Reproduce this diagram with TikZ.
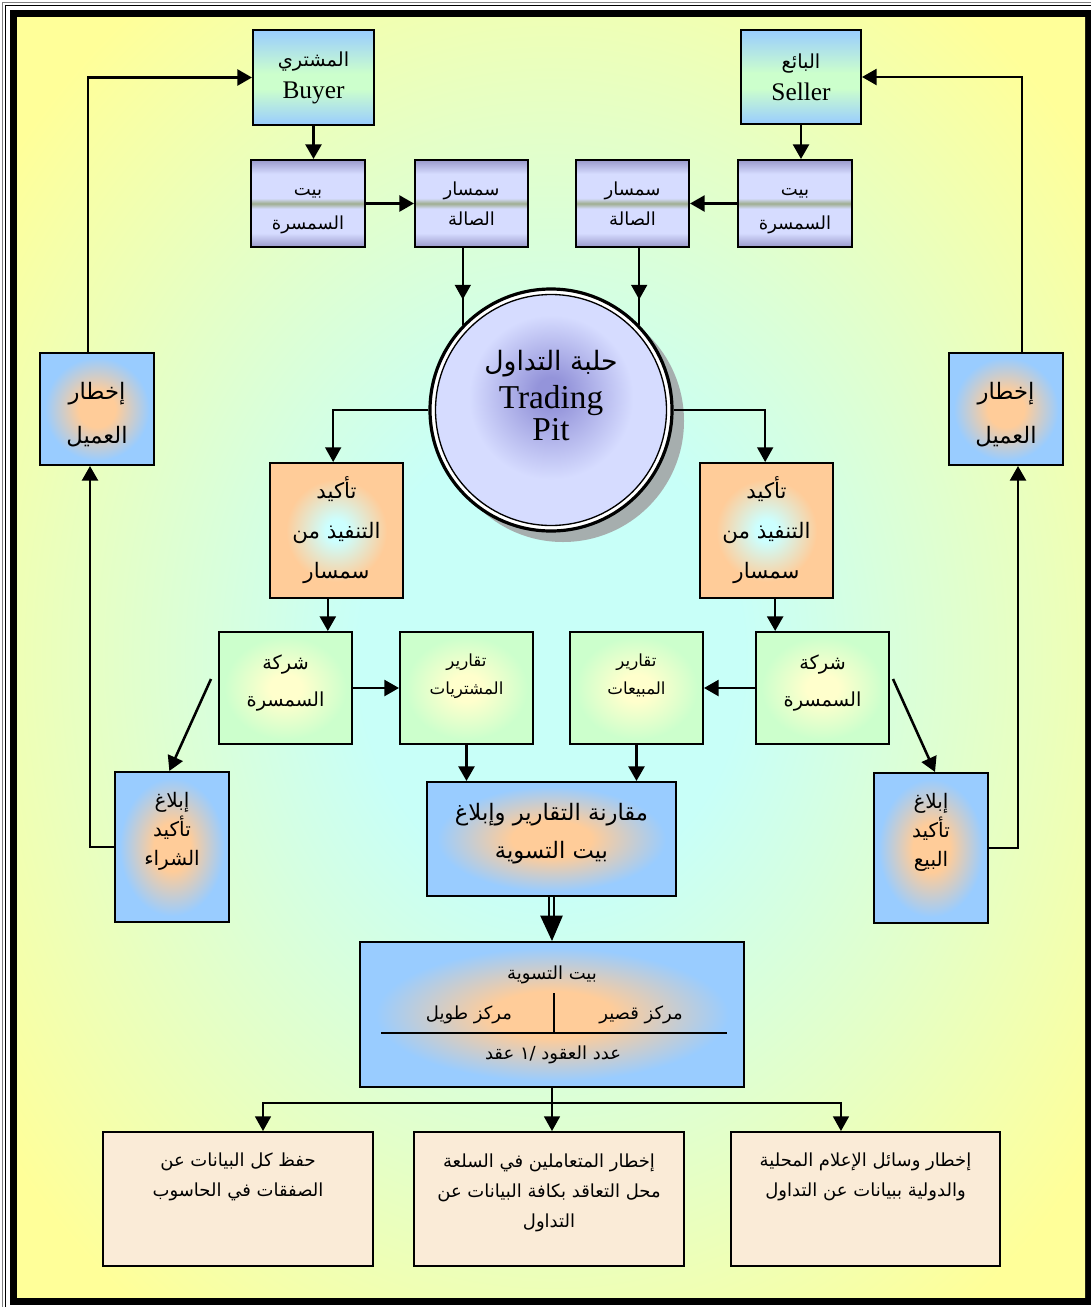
\documentclass[tikz,border=0pt]{standalone}
\usepackage{fontspec}
\setmainfont{Liberation Serif}
\newfontfamily\arabicfont[Script=Arabic]{DejaVu Sans}
\TeXXeTstate=1
\usetikzlibrary{arrows.meta,calc}
\newcommand\artx[1]{\beginR#1\endR}
\definecolor{bgy}{HTML}{FFFF99}
\definecolor{bgc}{HTML}{C8FFF8}
\definecolor{bl}{HTML}{99CCFF}
\definecolor{gr}{HTML}{CCFFCC}
\definecolor{lavd}{HTML}{9A9ACC}
\definecolor{lavl}{HTML}{D6DCFF}
\definecolor{band}{HTML}{9FAE90}
\definecolor{ora}{HTML}{FFCC99}
\definecolor{cyn}{HTML}{CCFFFF}
\definecolor{ylw}{HTML}{FFFFCC}
\definecolor{pitc}{HTML}{9494DA}
\definecolor{pito}{HTML}{D6DCFF}
\definecolor{shad}{HTML}{A6AEAE}
\definecolor{linen}{HTML}{FAEBD7}
\pgfdeclareradialshading{bgsh}{\pgfpoint{0bp}{0bp}}{color(0bp)=(bgc); color(9bp)=(bgc); color(32bp)=(bgy); color(50bp)=(bgy)}
\pgfdeclareradialshading{obl}{\pgfpoint{0bp}{0bp}}{color(0bp)=(ora); color(8bp)=(ora); color(23bp)=(bl); color(50bp)=(bl)}
\pgfdeclareradialshading{cor}{\pgfpoint{0bp}{0bp}}{color(0bp)=(cyn); color(4bp)=(cyn); color(19bp)=(ora); color(50bp)=(ora)}
\pgfdeclareradialshading{ygr}{\pgfpoint{0bp}{0bp}}{color(0bp)=(ylw); color(6bp)=(ylw); color(23bp)=(gr); color(50bp)=(gr)}
\pgfdeclareradialshading{pitsh}{\pgfpoint{0bp}{4bp}}{color(0bp)=(pitc); color(3bp)=(pitc); color(17bp)=(pito); color(50bp)=(pito)}
\pgfdeclareverticalshading{bygr}{100bp}{color(0bp)=(bl); color(25bp)=(bl); color(44bp)=(gr); color(52bp)=(gr); color(75bp)=(bl); color(100bp)=(bl)}
\pgfdeclareverticalshading{lav}{100bp}{color(0bp)=(lavd); color(25bp)=(lavd); color(33bp)=(lavl); color(47bp)=(lavl); color(50bp)=(band); color(53bp)=(lavl); color(67bp)=(lavl); color(75bp)=(lavd); color(100bp)=(lavd)}
\begin{document}
\begin{tikzpicture}[x=0.75pt,y=-0.75pt,
  box/.style={draw=black,line width=1.5pt,inner sep=0pt,align=center},
  sz/.style 2 args={minimum width=#1*0.75pt,minimum height=#2*0.75pt},
  arr/.style={line width=1.9pt,-{Triangle[width=12pt,length=11pt]}},
  arrt/.style={line width=1.2pt,-{Triangle[width=12pt,length=11pt]}},
  ln/.style={line width=1.2pt}]
\useasboundingbox (0,0) rectangle (1091,1307);
% frame
\fill[white] (0,0) rectangle (1091,1307);
\draw[line width=0.8pt,gray] (2.5,1307) -- (2.5,2.5) -- (1091,2.5);
\draw[line width=0.8pt] (5.5,1307) -- (5.5,5.5) -- (1091,5.5);
\fill[black] (10,10) rectangle (1091,1305);
\shade[shading=bgsh] (17,17) rectangle (1085,1297);
% top boxes
\node[box,shading=bygr,sz={121}{95},font=\fontsize{19}{23}\selectfont] (buyer) at (313.5,77.5)
  {{\arabicfont\fontsize{14.5}{23}\selectfont\artx{المشتري}}\\[1pt]Buyer};
\node[box,shading=bygr,sz={120}{94},font=\fontsize{19}{23}\selectfont] (seller) at (801,77)
  {{\arabicfont\fontsize{14.5}{23}\selectfont\artx{البائع}}\\[1pt]Seller};
\node[box,shading=lav,sz={114}{87},font=\arabicfont\fontsize{13.5}{26}\selectfont] (bsL) at (308,203.5) {\mbox{}\\[-9pt]\artx{بيت}\\\artx{السمسرة}};
\node[box,shading=lav,sz={113}{87},font=\arabicfont\fontsize{13.5}{23}\selectfont] (ssL) at (471.5,203.5) {\artx{سمسار}\\\artx{الصالة}};
\node[box,shading=lav,sz={113}{87},font=\arabicfont\fontsize{13.5}{23}\selectfont] (ssR) at (632.5,203.5) {\artx{سمسار}\\\artx{الصالة}};
\node[box,shading=lav,sz={114}{87},font=\arabicfont\fontsize{13.5}{26}\selectfont] (bsR) at (795,203.5) {\mbox{}\\[-9pt]\artx{بيت}\\\artx{السمسرة}};
% trading pit
\fill[shad] (563,421) circle[radius=121];
\node[circle,draw=black,line width=2.4pt,fill=white,minimum size=242*0.75pt,inner sep=0pt,align=center,
  font=\fontsize{25}{24}\selectfont,
  path picture={\shade[shading=pitsh] (path picture bounding box.center) circle[radius=115];
                \draw[line width=1pt] (path picture bounding box.center) circle[radius=115.5];}]
  (pit) at (551,410) {{\arabicfont\fontsize{20}{24}\selectfont\artx{حلبة التداول}}\\[5pt]Trading\\Pit\\[-2pt]\mbox{}};
% side boxes
\node[box,shading=obl,sz={114}{112},font=\arabicfont\fontsize{17}{33}\selectfont] (akL) at (97,409) {\mbox{}\\[-12pt]\artx{إخطار}\\\artx{العميل}};
\node[box,shading=obl,sz={114}{112},font=\arabicfont\fontsize{17}{33}\selectfont] (akR) at (1006,409) {\mbox{}\\[-12pt]\artx{إخطار}\\\artx{العميل}};
% execution confirmation
\node[box,shading=cor,sz={133}{135},font=\arabicfont\fontsize{16}{30}\selectfont] (tkL) at (336.5,530.5) {\artx{تأكيد}\\\artx{التنفيذ من}\\\artx{سمسار}};
\node[box,shading=cor,sz={133}{135},font=\arabicfont\fontsize{16}{30}\selectfont] (tkR) at (766.5,530.5) {\artx{تأكيد}\\\artx{التنفيذ من}\\\artx{سمسار}};
% brokerage / reports
\node[box,shading=ygr,sz={133}{112},font=\arabicfont\fontsize{14.5}{28}\selectfont] (shL) at (285.5,688) {\artx{شركة}\\\artx{السمسرة}\\[-17pt]\mbox{}};
\node[box,shading=ygr,sz={133}{112},font=\arabicfont\fontsize{12.5}{21}\selectfont] (tqM) at (466.5,688) {\artx{تقارير}\\\artx{المشتريات}\\\mbox{}};
\node[box,shading=ygr,sz={133}{112},font=\arabicfont\fontsize{12.5}{21}\selectfont] (tqS) at (636.5,688) {\artx{تقارير}\\\artx{المبيعات}\\\mbox{}};
\node[box,shading=ygr,sz={133}{112},font=\arabicfont\fontsize{14.5}{28}\selectfont] (shR) at (822.5,688) {\artx{شركة}\\\artx{السمسرة}\\[-17pt]\mbox{}};
% notification boxes
\node[box,shading=obl,sz={114}{150},font=\arabicfont\fontsize{15}{22}\selectfont] (ibL) at (172,847) {\artx{إبلاغ}\\\artx{تأكيد}\\\artx{الشراء}\\[5pt]\mbox{}};
\node[box,shading=obl,sz={114}{150},font=\arabicfont\fontsize{15}{22}\selectfont] (ibR) at (931,848) {\artx{إبلاغ}\\\artx{تأكيد}\\\artx{البيع}\\[5pt]\mbox{}};
% comparison
\node[box,shading=obl,sz={249}{114},font=\arabicfont\fontsize{17}{28}\selectfont] (muq) at (551.5,839) {\artx{مقارنة التقارير وإبلاغ}\\\artx{بيت التسوية}\\[-16pt]\mbox{}};
% settlement house
\node[box,shading=obl,sz={384}{145}] (tas) at (552,1014.5) {};
\node[font=\arabicfont\fontsize{13.5}{20}\selectfont] (tasT) at (552,975) {\artx{بيت التسوية}};
\node[font=\arabicfont\fontsize{13.5}{20}\selectfont] (tasS) at (641,1015) {\artx{مركز قصير}};
\node[font=\arabicfont\fontsize{13.5}{20}\selectfont] (tasL) at (469,1015) {\artx{مركز طويل}};
\node[font=\arabicfont\fontsize{13.5}{20}\selectfont] (tasN) at (553,1055) {\artx{عدد العقود /١ عقد}};
\draw[ln] (554,993) -- (554,1033);
\draw[ln] (381,1033) -- (727,1033);
% bottom boxes
\node[box,fill=linen,sz={270}{134},font=\arabicfont\fontsize{13.5}{22.5}\selectfont] (b1) at (238,1199) {\artx{حفظ كل البيانات عن}\\\artx{الصفقات في الحاسوب}\\[13.5pt]\mbox{}};
\node[box,fill=linen,sz={270}{134},font=\arabicfont\fontsize{13.5}{22.5}\selectfont] (b2) at (549,1199) {\artx{إخطار المتعاملين في السلعة}\\\artx{محل التعاقد بكافة البيانات عن}\\\artx{التداول}\\[-10.5pt]\mbox{}};
\node[box,fill=linen,sz={269}{134},font=\arabicfont\fontsize{13.5}{22.5}\selectfont] (b3) at (865.5,1199) {\artx{إخطار وسائل الإعلام المحلية}\\\artx{والدولية ببيانات عن التداول}\\[13.5pt]\mbox{}};
% connectors: top
\draw[arr] (buyer.south) -- (buyer.south |- bsL.north);
\draw[arr] (seller.south) -- (seller.south |- bsR.north);
\draw[arr] (bsL.east) -- (ssL.west);
\draw[arr] (bsR.west) -- (ssR.east);
\draw[ln] (pit.136 |- ssL.south) -- (pit.136);
\draw[arrt] (pit.136 |- ssL.south) -- ([yshift=19pt]pit.136);
\draw[ln] (pit.44 |- ssR.south) -- (pit.44);
\draw[arrt] (pit.44 |- ssR.south) -- ([yshift=19pt]pit.44);
% pit to confirmations
\draw[arrt] (pit.west) -| ([xshift=-2.5pt]tkL.north);
\draw[arrt] (pit.east) -| ([xshift=-1pt]tkR.north);
\draw[arr] ([xshift=-6.5pt]tkL.south) -- ([xshift=-6.5pt]tkL.south |- shL.north);
\draw[arr] ([xshift=6.5pt]tkR.south) -- ([xshift=6.5pt]tkR.south |- shR.north);
\draw[arr] (shL.east) -- (tqM.west);
\draw[arr] (shR.west) -- (tqS.east);
\draw[arr] ([shift={(-7,-9)}]shL.west) -- ([xshift=-2pt]ibL.north);
\draw[arr] ([shift={(3,-9)}]shR.east) -- ([xshift=3pt]ibR.north);
\draw[arr] (tqM.south) -- (tqM.south |- muq.north);
\draw[arr] (tqS.south) -- (tqS.south |- muq.north);
% loops
\draw[arr] (ibL.west) -| ([xshift=-5.25pt]akL.south);
\draw[arr] ([xshift=-6.75pt]akL.north) |- (buyer.west);
\draw[arr] (ibR.east) -| ([xshift=9pt]akR.south);
\draw[arr] ([xshift=12pt]akR.north) |- (seller.east);
% double arrow
\draw[line width=1.4pt] ([xshift=-2pt]muq.south) -- ([xshift=-2pt,yshift=-16pt]muq.south);
\draw[line width=1.4pt] ([xshift=2pt]muq.south) -- ([xshift=2pt,yshift=-16pt]muq.south);
\fill ([xshift=-8.5pt,yshift=-14pt]muq.south) -- ([xshift=8.5pt,yshift=-14pt]muq.south) -- (tas.north) -- cycle;
% distribution
\coordinate (split) at ([yshift=-11.25pt]tas.south);
\draw[arrt] (tas.south) -- (tas.south |- b2.north);
\draw[arrt] (split) -| ([xshift=18.75pt]b1.north);
\draw[arrt] (split) -| ([xshift=-18.4pt]b3.north);
\end{tikzpicture}
\end{document}
